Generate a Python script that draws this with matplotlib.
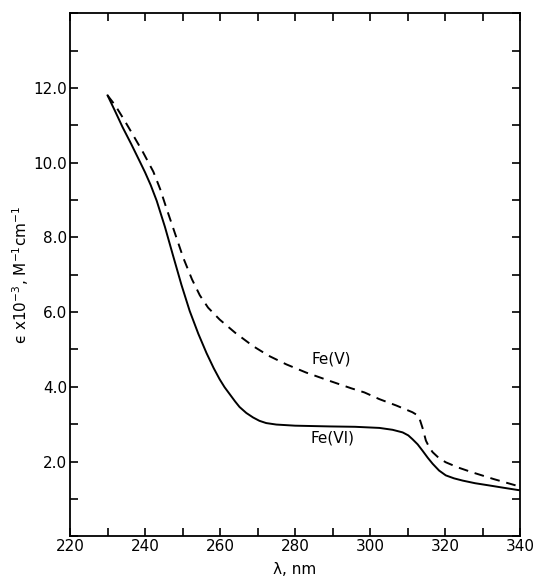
import matplotlib
matplotlib.use("Agg")
import matplotlib.pyplot as plt
from matplotlib.ticker import MultipleLocator, FormatStrFormatter

# Fe(VI) spectrum (solid)
fe6_nm = [230, 232, 234, 236.3, 238.6, 240, 241.5, 243.1, 245.3, 247.5, 249.7,
          251.9, 254.2, 256.4, 258.3, 259.9, 261.2, 262.6, 264, 265.2, 267,
          268.8, 270.5, 272.3, 275, 280, 289.2, 296, 302.5, 306, 308.7, 310.2,
          311.3, 312.7, 314, 315.4, 316.7, 318.4, 320.2, 322.4, 324.7, 328,
          331.8, 335.5, 339.3, 340]
fe6_eps = [11.8, 11.38, 10.95, 10.5, 10.03, 9.74, 9.4, 8.98, 8.28, 7.5, 6.73,
           6.03, 5.42, 4.9, 4.5, 4.2, 3.99, 3.8, 3.61, 3.46, 3.3, 3.18, 3.09,
           3.03, 2.99, 2.96, 2.94, 2.93, 2.9, 2.85, 2.78, 2.7, 2.6, 2.46,
           2.29, 2.1, 1.94, 1.76, 1.63, 1.55, 1.49, 1.42, 1.36, 1.3, 1.24, 1.23]

# Fe(V) spectrum (dashed)
fe5_nm = [230, 232, 234.4, 236.8, 239.5, 242.2, 244, 245.7, 248, 250.2, 252.5,
          254.6, 256.8, 259.9, 264, 268.8, 273, 277.7, 283, 289.2, 295, 298.5,
          302.5, 307, 311.3, 312.3, 313.1, 314, 314.9, 315.8, 316.7, 318.4,
          320.2, 323.5, 327.3, 333, 338.9, 340]
fe5_eps = [11.8, 11.54, 11.15, 10.74, 10.27, 9.76, 9.3, 8.78, 8.1, 7.45, 6.88,
           6.45, 6.12, 5.8, 5.45, 5.09, 4.83, 4.6, 4.38, 4.16, 3.96, 3.85,
           3.67, 3.5, 3.32, 3.26, 3.18, 2.9, 2.56, 2.38, 2.25, 2.09, 1.98,
           1.84, 1.71, 1.53, 1.36, 1.33]

font = 'DejaVu Sans'

fig = plt.figure(figsize=(5.35, 5.76), dpi=100)
ax = fig.add_axes([0.131, 0.069, 0.841, 0.908])

ax.plot(fe6_nm, fe6_eps, color='black', linewidth=1.4)
ax.plot(fe5_nm, fe5_eps, color='black', linewidth=1.4, linestyle=(0, (5, 3.5)))

ax.set_xlim(220, 340)
ax.set_ylim(0, 14)

ax.xaxis.set_major_locator(MultipleLocator(20))
ax.xaxis.set_minor_locator(MultipleLocator(10))
ax.yaxis.set_major_locator(MultipleLocator(2))
ax.yaxis.set_minor_locator(MultipleLocator(1))
ax.yaxis.set_major_formatter(FormatStrFormatter('%.1f'))
ax.set_yticks([2, 4, 6, 8, 10, 12])

ax.tick_params(which='both', direction='in', top=True, right=True,
               length=6, width=1.2, labelsize=11, pad=2)
for spine in ax.spines.values():
    spine.set_linewidth(1.3)

for lbl in ax.get_xticklabels() + ax.get_yticklabels():
    lbl.set_fontfamily(font)

ax.text(289.7, 4.75, "Fe(V)", fontsize=11, ha='center', va='center', fontfamily=font)
ax.text(290, 2.62, "Fe(VI)", fontsize=11, ha='center', va='center', fontfamily=font)

ax.set_xlabel("λ, nm", fontsize=11, fontfamily=font, labelpad=6)
ax.set_ylabel("\u03f5 x10$^{-3}$, M$^{-1}$cm$^{-1}$", fontsize=11,
              fontfamily=font, labelpad=2)

fig.savefig("out.png", dpi=100, facecolor='white')
